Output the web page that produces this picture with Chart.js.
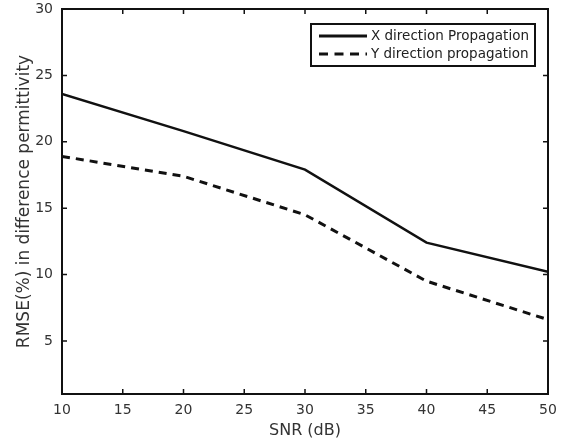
<!DOCTYPE html>
<html>
<head>
<meta charset="utf-8">
<script src="https://cdn.jsdelivr.net/npm/chart.js@4"></script>
<style>
  body { margin: 0; background: #fff; }
</style>
</head>
<body>
<canvas id="c" width="562" height="444"></canvas>
<script>
// data
let snr = [10, 20, 30, 40, 50]
let xProp = [23.6, 20.8, 17.9, 12.4, 10.2]
let yProp = [18.9, 17.4, 14.5, 9.5, 6.6]
let yTicks = [5, 10, 15, 20, 25, 30]
let labels = ["X direction Propagation", "Y direction propagation"]

let font = "DejaVu Sans"

// frame, inward ticks on all four sides, and the boxed legend
let framePlugin = {
    id: "frame",
    afterDraw(chart) {
        let ctx = chart.ctx
        let a = chart.chartArea
        let xs = chart.scales.x
        let ys = chart.scales.y
        ctx.save()
        ctx.strokeStyle = "#111"
        ctx.lineWidth = 2
        ctx.strokeRect(a.left, a.top, a.right - a.left, a.bottom - a.top)
        ctx.lineWidth = 1.5
        ctx.beginPath()
        xs.ticks.forEach(t => {
            let px = xs.getPixelForValue(t.value)
            ctx.moveTo(px, a.bottom); ctx.lineTo(px, a.bottom - 5)
            ctx.moveTo(px, a.top); ctx.lineTo(px, a.top + 5)
        })
        ys.ticks.forEach(t => {
            let py = ys.getPixelForValue(t.value)
            ctx.moveTo(a.left, py); ctx.lineTo(a.left + 5, py)
            ctx.moveTo(a.right, py); ctx.lineTo(a.right - 5, py)
        })
        ctx.stroke()

        // legend box
        let bx = 311, by = 24, bw = 224, bh = 42
        ctx.fillStyle = "#fff"
        ctx.fillRect(bx, by, bw, bh)
        ctx.lineWidth = 2
        ctx.strokeStyle = "#111"
        ctx.strokeRect(bx, by, bw, bh)
        ctx.font = "13.5px '" + font + "'"
        ctx.textBaseline = "middle"
        chart.data.datasets.forEach((ds, i) => {
            let ly = by + 12 + i * 18
            ctx.beginPath()
            ctx.lineWidth = 3
            ctx.setLineDash(ds.borderDash ? [9, 6.5] : [])
            ctx.strokeStyle = ds.borderColor
            ctx.moveTo(bx + 8, ly); ctx.lineTo(bx + 56, ly)
            ctx.stroke()
            ctx.setLineDash([])
            ctx.fillStyle = "#222"
            ctx.fillText(ds.label, bx + 60, ly)
        })
        ctx.restore()
    }
}

let chart = new Chart(document.getElementById("c").getContext("2d"), {
    type: "line",
    data: {
        datasets: [{
            label: labels[0],
            data: snr.map((x, i) => ({ x: x, y: xProp[i] })),
            borderColor: "#111",
            borderWidth: 2.5,
            pointRadius: 0,
            tension: 0
        }, {
            label: labels[1],
            data: snr.map((x, i) => ({ x: x, y: yProp[i] })),
            borderColor: "#111",
            borderWidth: 3,
            borderDash: [8, 6],
            pointRadius: 0,
            tension: 0
        }]
    },
    options: {
        responsive: false,
        animation: false,
        layout: { padding: { top: 9, right: 14, left: 0, bottom: 0 } },
        plugins: { legend: { display: false }, tooltip: { enabled: false } },
        scales: {
            x: {
                type: "linear",
                min: 10,
                max: 50,
                ticks: { stepSize: 5, color: "#333", font: { family: font, size: 14 }, padding: 0, maxRotation: 0 },
                grid: { display: false, tickLength: 8 },
                border: { display: false },
                title: { display: true, text: "SNR (dB)", color: "#333", font: { family: font, size: 16 }, padding: { top: 1 } },
                afterFit(s) { s.height = 50; s.paddingLeft = 0; s.paddingRight = 0 }
            },
            y: {
                min: 1,
                max: 30,
                afterBuildTicks(s) { s.ticks = yTicks.map(v => ({ value: v })) },
                ticks: { color: "#333", font: { family: font, size: 14 }, padding: 1 },
                grid: { display: false, tickLength: 8 },
                border: { display: false },
                title: { display: true, text: "RMSE(%) in difference permittivity", color: "#333", font: { family: font, size: 17 }, padding: { top: 14, bottom: 0 } },
                afterFit(s) { s.width = 62; s.paddingTop = 0; s.paddingBottom = 0 }
            }
        }
    },
    plugins: [framePlugin]
})
</script>
</body>
</html>
